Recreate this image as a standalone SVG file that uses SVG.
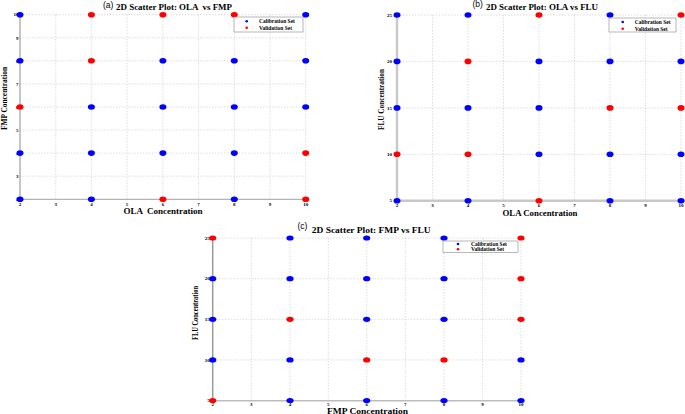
<svg xmlns="http://www.w3.org/2000/svg" width="685" height="414" viewBox="0 0 685 414">
<style>
.bg{fill:#ffffff}
.grid{fill:none;stroke:#c8c8c8;stroke-width:0.6;stroke-dasharray:1.5 1.5}
.cal{fill:#0000ff}
.val{fill:#ff0000}
.tick{font-family:"Liberation Serif",serif;font-weight:bold;font-size:5px;fill:#000}
.title{font-family:"Liberation Serif",serif;font-weight:bold;font-size:8px;fill:#000;white-space:pre}
.tag{font-family:"Liberation Sans",Arial,sans-serif;font-size:8.5px;fill:#000}
.axlab{font-family:"Liberation Serif",serif;font-weight:bold;font-size:8.5px;fill:#000;white-space:pre}
.leg{font-family:"Liberation Serif",serif;font-weight:bold;font-size:5.5px;fill:#000}
.legbox{fill:#ffffff;stroke:#888;stroke-width:0.6}
</style>
<rect class="bg" x="0" y="0" width="685" height="414"/>

<g id="panel-a">
  <path class="grid" d="M55.7 14.7V199.3M91.4 14.7V199.3M127.1 14.7V199.3M162.9 14.7V199.3M198.6 14.7V199.3M234.3 14.7V199.3M270 14.7V199.3M305.7 14.7V199.3M20 14.7H305.7M20 37.8H305.7M20 60.8H305.7M20 83.9H305.7M20 107H305.7M20 130.1H305.7M20 153.1H305.7M20 176.2H305.7"/>
  <line x1="20" y1="14.7" x2="20" y2="199.3" stroke="#8c8c8c" stroke-width="1"/>
  <line x1="20" y1="199.3" x2="305.7" y2="199.3" stroke="#b4b4b4" stroke-width="1.2"/>
  <g class="tick" text-anchor="end">
    <text x="18.5" y="16.4">10</text><text x="18.5" y="39.5">9</text><text x="18.5" y="62.5">8</text><text x="18.5" y="85.6">7</text><text x="18.5" y="108.7">6</text><text x="18.5" y="131.8">5</text><text x="18.5" y="154.8">4</text><text x="18.5" y="177.9">3</text><text x="18.5" y="201">2</text>
  </g>
  <g class="tick" text-anchor="middle">
    <text x="20" y="205.5">2</text><text x="55.7" y="205.5">3</text><text x="91.4" y="205.5">4</text><text x="127.1" y="205.5">5</text><text x="162.9" y="205.5">6</text><text x="198.6" y="205.5">7</text><text x="234.3" y="205.5">8</text><text x="270" y="205.5">9</text><text x="305.7" y="205.5">10</text>
  </g>
  <g>
    <ellipse class="cal" cx="20" cy="14.7" rx="3.5" ry="2.8"/><ellipse class="val" cx="91.4" cy="14.7" rx="3.5" ry="2.8"/><ellipse class="val" cx="162.9" cy="14.7" rx="3.5" ry="2.8"/><ellipse class="val" cx="234.3" cy="14.7" rx="3.5" ry="2.8"/><ellipse class="cal" cx="305.7" cy="14.7" rx="3.5" ry="2.8"/>
    <ellipse class="cal" cx="20" cy="60.8" rx="3.5" ry="2.8"/><ellipse class="val" cx="91.4" cy="60.8" rx="3.5" ry="2.8"/><ellipse class="cal" cx="162.9" cy="60.8" rx="3.5" ry="2.8"/><ellipse class="cal" cx="234.3" cy="60.8" rx="3.5" ry="2.8"/><ellipse class="cal" cx="305.7" cy="60.8" rx="3.5" ry="2.8"/>
    <ellipse class="val" cx="20" cy="107" rx="3.5" ry="2.8"/><ellipse class="cal" cx="91.4" cy="107" rx="3.5" ry="2.8"/><ellipse class="cal" cx="162.9" cy="107" rx="3.5" ry="2.8"/><ellipse class="cal" cx="234.3" cy="107" rx="3.5" ry="2.8"/><ellipse class="cal" cx="305.7" cy="107" rx="3.5" ry="2.8"/>
    <ellipse class="cal" cx="20" cy="153.1" rx="3.5" ry="2.8"/><ellipse class="cal" cx="91.4" cy="153.1" rx="3.5" ry="2.8"/><ellipse class="cal" cx="162.9" cy="153.1" rx="3.5" ry="2.8"/><ellipse class="cal" cx="234.3" cy="153.1" rx="3.5" ry="2.8"/><ellipse class="val" cx="305.7" cy="153.1" rx="3.5" ry="2.8"/>
    <ellipse class="cal" cx="20" cy="199.3" rx="3.5" ry="2.8"/><ellipse class="cal" cx="91.4" cy="199.3" rx="3.5" ry="2.8"/><ellipse class="val" cx="162.9" cy="199.3" rx="3.5" ry="2.8"/><ellipse class="cal" cx="234.3" cy="199.3" rx="3.5" ry="2.8"/><ellipse class="val" cx="305.7" cy="199.3" rx="3.5" ry="2.8"/>
  </g>
  <text class="tag" x="103" y="8">(a)</text>
  <text class="title" x="116" y="9.5" textLength="116" lengthAdjust="spacingAndGlyphs" xml:space="preserve">2D Scatter Plot: OLA  vs FMP</text>
  <g id="legend-a">
    <rect class="legbox" x="234" y="17" width="69" height="15"/>
    <circle class="cal" cx="246.7" cy="21.3" r="1.3"/>
    <circle class="val" cx="246.7" cy="27.7" r="1.3"/>
    <text class="leg" x="259" y="23.2">Calibration Set</text>
    <text class="leg" x="259" y="29.6">Validation Set</text>
  </g>
  <text class="axlab" x="163" y="214.3" text-anchor="middle" textLength="79" lengthAdjust="spacingAndGlyphs" xml:space="preserve">OLA  Concentration</text>
  <text class="axlab" transform="translate(7.3 98.5) rotate(-90)" text-anchor="middle" textLength="63" lengthAdjust="spacingAndGlyphs">FMP Concentration</text>
</g>

<g id="panel-b">
  <path class="grid" d="M432.5 15V200.7M468 15V200.7M503.5 15V200.7M539 15V200.7M574.5 15V200.7M610 15V200.7M645.5 15V200.7M681 15V200.7M397 15H685M397 61.4H685M397 107.9H685M397 154.3H685"/>
  <line x1="397" y1="15" x2="397" y2="200.7" stroke="#c8c8c8" stroke-width="2.4"/>
  <line x1="397" y1="200.7" x2="685" y2="200.7" stroke="#c8c8c8" stroke-width="2.4"/>
  <g class="tick" text-anchor="end">
    <text x="392" y="16.7">25</text><text x="392" y="63.1">20</text><text x="392" y="109.6">15</text><text x="392" y="156">10</text><text x="392" y="202.4">5</text>
  </g>
  <g class="tick" text-anchor="middle">
    <text x="397" y="206.5">2</text><text x="432.5" y="206.5">3</text><text x="468" y="206.5">4</text><text x="503.5" y="206.5">5</text><text x="539" y="206.5">6</text><text x="574.5" y="206.5">7</text><text x="610" y="206.5">8</text><text x="645.5" y="206.5">9</text><text x="681" y="206.5">10</text>
  </g>
  <g>
    <ellipse class="cal" cx="397" cy="15" rx="3.5" ry="2.8"/><ellipse class="cal" cx="468" cy="15" rx="3.5" ry="2.8"/><ellipse class="val" cx="539" cy="15" rx="3.5" ry="2.8"/><ellipse class="cal" cx="610" cy="15" rx="3.5" ry="2.8"/><ellipse class="val" cx="681" cy="15" rx="3.5" ry="2.8"/>
    <ellipse class="cal" cx="397" cy="61.4" rx="3.5" ry="2.8"/><ellipse class="val" cx="468" cy="61.4" rx="3.5" ry="2.8"/><ellipse class="cal" cx="539" cy="61.4" rx="3.5" ry="2.8"/><ellipse class="cal" cx="610" cy="61.4" rx="3.5" ry="2.8"/><ellipse class="cal" cx="681" cy="61.4" rx="3.5" ry="2.8"/>
    <ellipse class="cal" cx="397" cy="107.9" rx="3.5" ry="2.8"/><ellipse class="cal" cx="468" cy="107.9" rx="3.5" ry="2.8"/><ellipse class="cal" cx="539" cy="107.9" rx="3.5" ry="2.8"/><ellipse class="val" cx="610" cy="107.9" rx="3.5" ry="2.8"/><ellipse class="val" cx="681" cy="107.9" rx="3.5" ry="2.8"/>
    <ellipse class="val" cx="397" cy="154.3" rx="3.5" ry="2.8"/><ellipse class="val" cx="468" cy="154.3" rx="3.5" ry="2.8"/><ellipse class="cal" cx="539" cy="154.3" rx="3.5" ry="2.8"/><ellipse class="cal" cx="610" cy="154.3" rx="3.5" ry="2.8"/><ellipse class="cal" cx="681" cy="154.3" rx="3.5" ry="2.8"/>
    <ellipse class="cal" cx="397" cy="200.7" rx="3.5" ry="2.8"/><ellipse class="cal" cx="468" cy="200.7" rx="3.5" ry="2.8"/><ellipse class="val" cx="539" cy="200.7" rx="3.5" ry="2.8"/><ellipse class="cal" cx="610" cy="200.7" rx="3.5" ry="2.8"/><ellipse class="cal" cx="681" cy="200.7" rx="3.5" ry="2.8"/>
  </g>
  <text class="tag" x="472.5" y="7">(b)</text>
  <text class="title" x="486" y="9.7" textLength="112" lengthAdjust="spacingAndGlyphs">2D Scatter Plot: OLA vs FLU</text>
  <g id="legend-b">
    <rect class="legbox" x="609" y="18" width="67" height="14"/>
    <circle class="cal" cx="622.7" cy="22" r="1.3"/>
    <circle class="val" cx="622.7" cy="28.7" r="1.3"/>
    <text class="leg" x="634.7" y="23.9">Calibration Set</text>
    <text class="leg" x="634.7" y="30.6">Validation Set</text>
  </g>
  <text class="axlab" x="540" y="216" text-anchor="middle" textLength="75" lengthAdjust="spacingAndGlyphs">OLA Concentration</text>
  <text class="axlab" transform="translate(384 99.5) rotate(-90)" text-anchor="middle" textLength="61" lengthAdjust="spacingAndGlyphs">FLU Concentration</text>
</g>

<g id="panel-c">
  <path class="grid" d="M251.3 238V400.5M290 238V400.5M328.3 238V400.5M366.7 238V400.5M405.3 238V400.5M444 238V400.5M482.5 238V400.5M521 238V400.5M212.7 238H521M212.7 278.7H521M212.7 319.3H521M212.7 359.9H521"/>
  <line x1="212.7" y1="238" x2="212.7" y2="400.7" stroke="#9a9a9a" stroke-width="1.5"/>
  <line x1="212.7" y1="400.7" x2="521" y2="400.7" stroke="#bcbcbc" stroke-width="1.5"/>
  <g class="tick" text-anchor="end">
    <text x="209.8" y="239.7">25</text><text x="209.8" y="280.4">20</text><text x="209.8" y="321">15</text><text x="209.8" y="361.6">10</text><text x="209.8" y="402.2">5</text>
  </g>
  <g class="tick" text-anchor="middle">
    <text x="212.7" y="406">2</text><text x="251.3" y="406">3</text><text x="290" y="406">4</text><text x="328.3" y="406">5</text><text x="366.7" y="406">6</text><text x="405.3" y="406">7</text><text x="444" y="406">8</text><text x="482.5" y="406">9</text><text x="521" y="406">10</text>
  </g>
  <g>
    <ellipse class="val" cx="212.7" cy="238" rx="3.6" ry="2.6"/><ellipse class="cal" cx="290" cy="238" rx="3.6" ry="2.6"/><ellipse class="cal" cx="366.7" cy="238" rx="3.6" ry="2.6"/><ellipse class="cal" cx="444" cy="238" rx="3.6" ry="2.6"/><ellipse class="val" cx="521" cy="238" rx="3.6" ry="2.6"/>
    <ellipse class="cal" cx="212.7" cy="278.7" rx="3.6" ry="2.6"/><ellipse class="cal" cx="290" cy="278.7" rx="3.6" ry="2.6"/><ellipse class="cal" cx="366.7" cy="278.7" rx="3.6" ry="2.6"/><ellipse class="cal" cx="444" cy="278.7" rx="3.6" ry="2.6"/><ellipse class="val" cx="521" cy="278.7" rx="3.6" ry="2.6"/>
    <ellipse class="cal" cx="212.7" cy="319.3" rx="3.6" ry="2.6"/><ellipse class="val" cx="290" cy="319.3" rx="3.6" ry="2.6"/><ellipse class="cal" cx="366.7" cy="319.3" rx="3.6" ry="2.6"/><ellipse class="cal" cx="444" cy="319.3" rx="3.6" ry="2.6"/><ellipse class="val" cx="521" cy="319.3" rx="3.6" ry="2.6"/>
    <ellipse class="cal" cx="212.7" cy="359.9" rx="3.6" ry="2.6"/><ellipse class="cal" cx="290" cy="359.9" rx="3.6" ry="2.6"/><ellipse class="val" cx="366.7" cy="359.9" rx="3.6" ry="2.6"/><ellipse class="val" cx="444" cy="359.9" rx="3.6" ry="2.6"/><ellipse class="cal" cx="521" cy="359.9" rx="3.6" ry="2.6"/>
    <ellipse class="val" cx="212.7" cy="400.5" rx="3.6" ry="2.6"/><ellipse class="cal" cx="290" cy="400.5" rx="3.6" ry="2.6"/><ellipse class="cal" cx="366.7" cy="400.5" rx="3.6" ry="2.6"/><ellipse class="cal" cx="444" cy="400.5" rx="3.6" ry="2.6"/><ellipse class="cal" cx="521" cy="400.5" rx="3.6" ry="2.6"/>
  </g>
  <text class="tag" x="297.5" y="229">(c)</text>
  <text class="title" x="311.7" y="233" textLength="119" lengthAdjust="spacingAndGlyphs">2D Scatter Plot: FMP vs FLU</text>
  <g id="legend-c">
    <rect class="legbox" x="443" y="241" width="75" height="11.3"/>
    <circle class="cal" cx="458" cy="244" r="1.3"/>
    <circle class="val" cx="458" cy="249.3" r="1.3"/>
    <text class="leg" x="471" y="245.9">Calibration Set</text>
    <text class="leg" x="471" y="251.2">Validation Set</text>
  </g>
  <text class="axlab" x="367.5" y="413.5" text-anchor="middle" textLength="81" lengthAdjust="spacingAndGlyphs">FMP Concentration</text>
  <text class="axlab" transform="translate(198.3 313) rotate(-90)" text-anchor="middle" textLength="54" lengthAdjust="spacingAndGlyphs">FLU Concentration</text>
</g>
</svg>
